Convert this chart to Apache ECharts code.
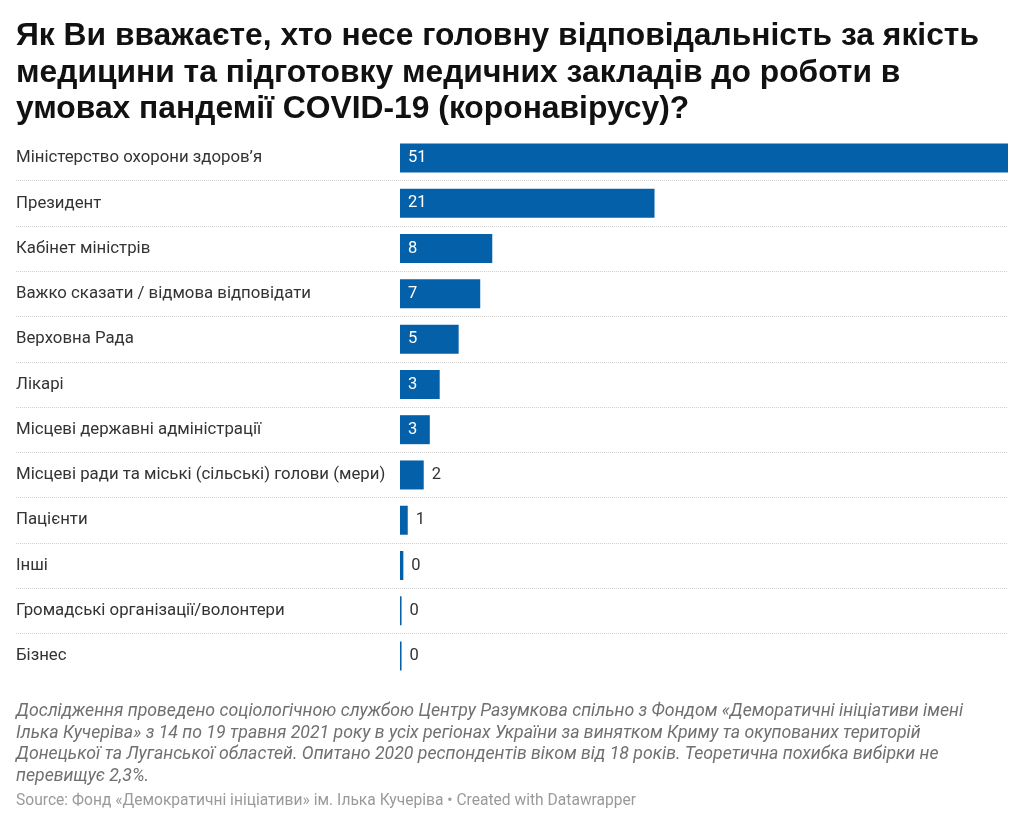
<!DOCTYPE html>
<html>
<head>
<meta charset="utf-8">
<script src="https://cdn.jsdelivr.net/npm/echarts@6/dist/echarts.min.js"></script>
<style>
  html, body { margin: 0; padding: 0; background: #fff; }
  #chart { width: 1024px; height: 823px; }
</style>
</head>
<body>
<div id="chart"></div>
<script>
const categories = [
  "Міністерство охорони здоров’я",
  "Президент",
  "Кабінет міністрів",
  "Важко сказати / відмова відповідати",
  "Верховна Рада",
  "Лікарі",
  "Місцеві державні адміністрації",
  "Місцеві ради та міські (сільські) голови (мери)",
  "Пацієнти",
  "Інші",
  "Громадські організації/волонтери",
  "Бізнес"
];
const values = [51, 21.35, 7.74, 6.73, 4.92, 3.33, 2.5, 1.99, 0.65, 0.28, 0.13, 0.13];

const titleText = "Як Ви вважаєте, хто несе головну відповідальність за якість\nмедицини та підготовку медичних закладів до роботи в\nумовах пандемії COVID-19 (коронавірусу)?";
const notesText = "Дослідження проведено соціологічною службою Центру Разумкова спільно з Фондом «Деморатичні ініціативи імені\nІлька Кучеріва» з 14 по 19 травня 2021 року в усіх регіонах України за винятком Криму та окупованих територій\nДонецької та Луганської областей. Опитано 2020 респондентів віком від 18 років. Теоретична похибка вибірки не\nперевищує 2,3%.";
const sourceText = "Source: Фонд «Демократичні ініціативи» ім. Ілька Кучеріва • Created with Datawrapper";

const BLUE = "#0560aa";
const INSIDE_MIN = 2.2;

const barData = values.map(v => ({
  value: v,
  label: v >= INSIDE_MIN
    ? { position: "insideLeft", distance: 8, color: "#ffffff" }
    : { position: "right", distance: 8, color: "#333333" }
}));

// separators between rows only (no line at top or bottom edge)
const sepColors = [];
for (let i = 0; i <= categories.length; i++) {
  sepColors.push(i === 0 || i === categories.length ? "rgba(0,0,0,0)" : "#d0d0d0");
}

const chart = echarts.init(document.getElementById("chart"), null, { renderer: "canvas" });
chart.setOption({
  animation: false,
  backgroundColor: "#ffffff",
  title: [
    {
      text: titleText,
      left: 16, top: 18, padding: 0,
      textStyle: { fontFamily: "Liberation Sans, Arial, sans-serif", fontWeight: "bold", fontSize: 31.8, lineHeight: 36.5, color: "#111111" }
    },
    {
      text: notesText,
      left: 16, top: 701, padding: 0,
      textStyle: { fontFamily: "Roboto, sans-serif", fontStyle: "italic", fontWeight: "normal", fontSize: 17.7, lineHeight: 21.5, color: "#707070" }
    },
    {
      text: sourceText,
      left: 16, top: 792, padding: 0,
      textStyle: { fontFamily: "Roboto, sans-serif", fontWeight: "normal", fontSize: 15.6, lineHeight: 18, color: "#9a9a9a" }
    }
  ],
  grid: [
    { left: 16, right: 16, top: 135.4, height: 543.3, containLabel: false },
    { left: 400, right: 16, top: 135.4, height: 543.3, containLabel: false }
  ],
  xAxis: [
    { gridIndex: 0, type: "value", min: 0, max: 1, show: false },
    { gridIndex: 1, type: "value", min: 0, max: 51, show: false }
  ],
  yAxis: [
    {
      gridIndex: 0, type: "category", data: categories, inverse: true,
      axisLine: { show: false }, axisTick: { show: false }, axisLabel: { show: false },
      splitLine: { show: true, lineStyle: { type: "dotted", width: 1, color: sepColors } }
    },
    {
      gridIndex: 1, type: "category", data: categories, inverse: true,
      axisLine: { show: false }, axisTick: { show: false },
      axisLabel: {
        align: "left", margin: 384, fontFamily: "Roboto, sans-serif", fontSize: 16.8, color: "#333333",
        padding: [6, 0, 0, 0]
      },
      splitLine: { show: false }
    }
  ],
  series: [
    {
      type: "bar",
      xAxisIndex: 1, yAxisIndex: 1,
      data: barData,
      barWidth: 29,
      itemStyle: { color: BLUE },
      label: {
        show: true,
        fontFamily: "Roboto, sans-serif", fontSize: 16.5,
        padding: [5, 0, 0, 0],
        formatter: p => String(Math.round(p.value))
      }
    }
  ]
});
</script>
</body>
</html>
